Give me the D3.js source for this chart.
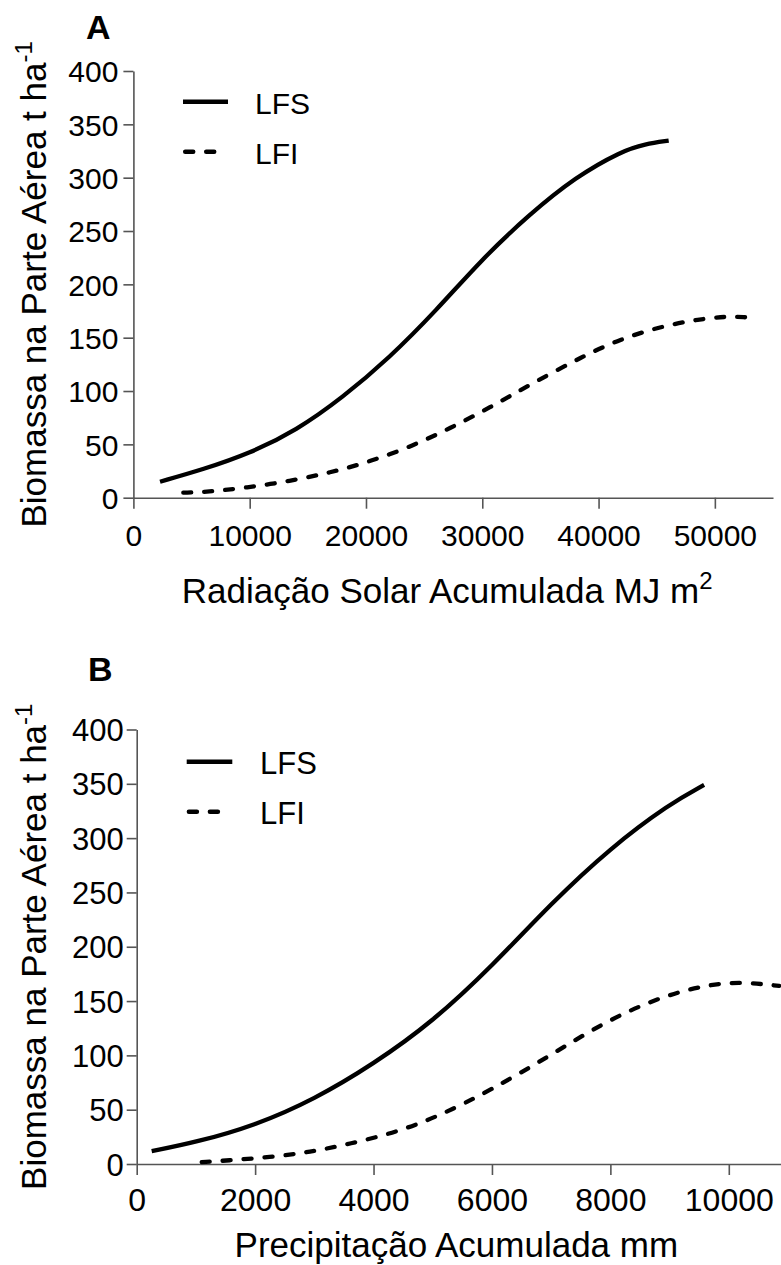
<!DOCTYPE html>
<html>
<head>
<meta charset="utf-8">
<script src="https://cdn.jsdelivr.net/npm/d3@7"></script>
<style>
  html, body { margin: 0; padding: 0; background: #fff; }
  svg { display: block; font-family: "Liberation Sans", Arial, sans-serif; }
</style>
</head>
<body>
<svg id="chart" width="781" height="1265"></svg>
<script>
// ---- Data ----
// Panel A: Radiação Solar Acumulada (MJ m2) vs Biomassa
const aLfsX = [2290, 6000, 10000, 14000, 18000, 22000, 26000, 30000, 34000, 38000, 42000, 44000, 46030];
const aLfsY = [15, 26.5, 41.5, 63, 94, 131, 175, 224, 265, 300.5, 325, 331.5, 334.7];
const aLfiX = [4290, 6300, 9740, 13460, 16900, 20340, 24070, 27220, 30660, 34100, 38680, 41840, 45280, 48710, 51010, 52730];
const aLfiY = [4.7, 5.3, 9.4, 15.6, 23.4, 33.8, 48.8, 65, 84.5, 106, 132.8, 148.5, 160.3, 167.5, 170, 169.1];
const aXTicks = [0, 10000, 20000, 30000, 40000, 50000];

// Panel B: Precipitação Acumulada (mm) vs Biomassa
const bLfsX = [253, 1000, 2000, 3000, 4000, 5000, 6000, 7000, 8000, 9000, 9583];
const bLfsY = [11.8, 20, 35.5, 59.5, 92, 131, 182, 240, 291, 331.5, 349];
const bLfiX = [1098, 1520, 2252, 2927, 3603, 4392, 5123, 5968, 6982, 7939, 8895, 9740, 10304, 10850];
const bLfiY = [1.7, 3.2, 6.3, 10.9, 18.6, 29.3, 44.6, 67.6, 99.8, 132, 155, 166.3, 167.2, 164];
const bXTicks = [0, 2000, 4000, 6000, 8000, 10000];

const yTicks = [0, 50, 100, 150, 200, 250, 300, 350, 400];
const seriesNames = ["LFS", "LFI"];
const panelTitles = ["A", "B"];
const xTitles = ["Radiação Solar Acumulada MJ m", "Precipitação Acumulada mm"];
const xTitleSup = ["2", ""];
const yTitle = "Biomassa na Parte Aérea t ha";
const yTitleSup = "-1";

// ---- Layout ----
const panels = [
  { title: panelTitles[0], titleX: 86, titleY: 39,
    xDomain: [0, 55000], xRange: [133.4, 773], yRange: [497.7, 71],
    xTicks: aXTicks, lfs: [aLfsX, aLfsY], lfi: [aLfiX, aLfiY],
    tickFont: 30, xTickFont: 30, xPad: 16, yPad: 5,
    xTitle: xTitles[0], xSup: xTitleSup[0], xTitleY: 603, yTitleX: 46,
    legX: [183, 228], legTextX: 255, legY: [101.7, 151.7], legFont: 30 },
  { title: panelTitles[1], titleX: 88, titleY: 681,
    xDomain: [0, 11000], xRange: [136.7, 788], yRange: [1164, 729.5],
    xTicks: bXTicks, lfs: [bLfsX, bLfsY], lfi: [bLfiX, bLfiY],
    tickFont: 31, xTickFont: 32, xPad: 13, yPad: 3,
    xTitle: xTitles[1], xSup: xTitleSup[1], xTitleY: 1257, yTitleX: 46,
    legX: [186.7, 232.3], legTextX: 260, legY: [761.7, 811.7], legFont: 31 }
];

const svg = d3.select("#chart");
const axisColor = "#555";
const dash = "8,13";

panels.forEach(p => {
  const x = d3.scaleLinear().domain(p.xDomain).range(p.xRange);
  const y = d3.scaleLinear().domain([0, 400]).range(p.yRange);
  const g = svg.append("g");

  // Title
  g.append("text").attr("x", p.titleX).attr("y", p.titleY)
    .attr("font-size", 34).attr("font-weight", "bold").attr("fill", "#000").text(p.title);

  // Y axis
  const ya = g.append("g").attr("transform", `translate(${p.xRange[0]},0)`)
    .call(d3.axisLeft(y).tickValues(yTicks).tickSize(10).tickPadding(p.yPad).tickSizeOuter(0));
  ya.selectAll("text").attr("font-size", p.tickFont).attr("fill", "#000")
    .attr("font-family", "Liberation Sans, Arial, sans-serif").attr("dy", "0.36em");
  ya.select(".domain").attr("stroke", axisColor).attr("stroke-width", 1.6);
  ya.selectAll(".tick line").attr("stroke", axisColor).attr("stroke-width", 1.6);

  // X axis
  const xa = g.append("g").attr("transform", `translate(0,${p.yRange[0]})`)
    .call(d3.axisBottom(x).tickValues(p.xTicks).tickFormat(d3.format("d")).tickSize(11).tickPadding(p.xPad).tickSizeOuter(0));
  xa.selectAll("text").attr("font-size", p.xTickFont).attr("fill", "#000")
    .attr("font-family", "Liberation Sans, Arial, sans-serif");
  xa.select(".domain").attr("stroke", axisColor).attr("stroke-width", 1.6);
  xa.selectAll(".tick line").attr("stroke", axisColor).attr("stroke-width", 1.6);

  // Axis titles
  const xt = g.append("text").attr("x", (p.xRange[0] + p.xRange[1]) / 2 - 6).attr("y", p.xTitleY)
    .attr("text-anchor", "middle").attr("font-size", 35).attr("fill", "#000");
  xt.append("tspan").text(p.xTitle);
  if (p.xSup) xt.append("tspan").attr("dy", -14).attr("font-size", 24).text(p.xSup);

  const cy = (p.yRange[0] + p.yRange[1]) / 2;
  const yt = g.append("text").attr("transform", `translate(${p.yTitleX},${cy}) rotate(-90)`)
    .attr("text-anchor", "middle").attr("font-size", 35).attr("fill", "#000");
  yt.append("tspan").text(yTitle);
  yt.append("tspan").attr("dy", -14).attr("font-size", 24).text(yTitleSup);

  // Curves
  const line = d3.line().x(d => x(d[0])).y(d => y(d[1])).curve(d3.curveBasis);
  const lfs = p.lfs[0].map((v, i) => [v, p.lfs[1][i]]);
  const lfi = p.lfi[0].map((v, i) => [v, p.lfi[1][i]]);
  g.append("path").datum(lfs).attr("d", line).attr("fill", "none")
    .attr("stroke", "#000").attr("stroke-width", 4.3);
  g.append("path").datum(lfi).attr("d", line).attr("fill", "none")
    .attr("stroke", "#000").attr("stroke-width", 4.3)
    .attr("stroke-dasharray", dash).attr("stroke-linecap", "round");

  // Legend
  seriesNames.forEach((name, i) => {
    const ly = p.legY[i];
    const l = g.append("line").attr("x1", p.legX[0]).attr("x2", p.legX[1])
      .attr("y1", ly).attr("y2", ly).attr("stroke", "#000").attr("stroke-width", 4.5);
    if (i === 1) l.attr("stroke-dasharray", dash).attr("stroke-linecap", "round")
      .attr("x1", p.legX[0] + 2.2).attr("x2", p.legX[1] - 2.2);
    g.append("text").attr("x", p.legTextX).attr("y", ly + 12.5)
      .attr("font-size", p.legFont).attr("fill", "#000").text(name);
  });
});
</script>
</body>
</html>
